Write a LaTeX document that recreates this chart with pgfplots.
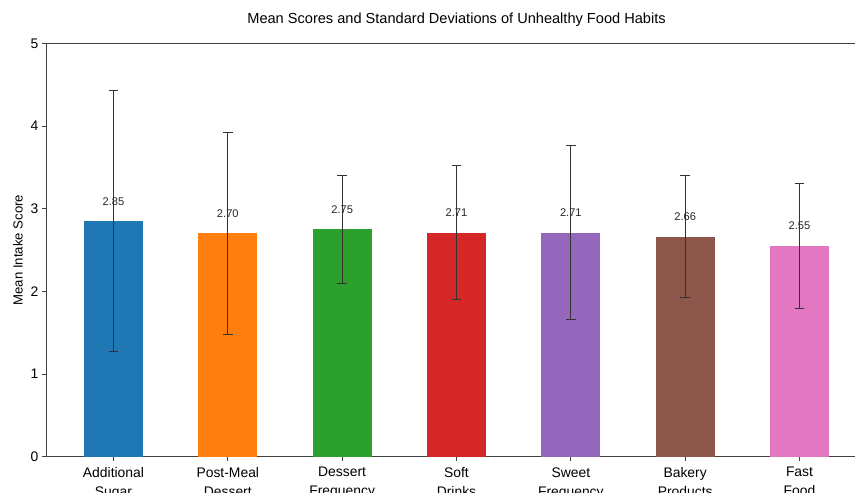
\documentclass[border=0pt]{standalone}
\usepackage{pgfplots}
\pgfplotsset{compat=1.18}
\usepackage{fontspec}
\setmainfont{Liberation Sans}

\definecolor{tabblue}{HTML}{1F77B4}
\definecolor{taborange}{HTML}{FF7F0E}
\definecolor{tabgreen}{HTML}{2CA02C}
\definecolor{tabred}{HTML}{D62728}
\definecolor{tabpurple}{HTML}{9467BD}
\definecolor{tabbrown}{HTML}{8C564B}
\definecolor{tabpink}{HTML}{E377C2}
\definecolor{errgray}{HTML}{333333}

\begin{document}
\begin{tikzpicture}
% canvas: 855 x 493 px at 0.72pt per px
\path[use as bounding box] (0pt,0pt) rectangle (615.6pt,354.96pt);
\clip (0pt,0pt) rectangle (615.6pt,354.96pt);
\node[font=\fontsize{10.5}{12}\selectfont] at (328.7pt,340.8pt) {Mean Scores and Standard Deviations of Unhealthy Food Habits};
\begin{axis}[
  at={(33.12pt,26.14pt)}, anchor=south west,
  scale only axis, width=591.1pt, height=297.6pt,
  xmin=-0.59, xmax=6.59, ymin=0, ymax=5,
  axis line style={black!75, line width=0.7pt},
  tick style={black!75, line width=0.6pt},
  major tick length=3pt,
  tick align=outside,
  xtick pos=bottom, ytick pos=left,
  ytick={0,1,2,3,4,5},
  xtick={0,1,2,3,4,5,6},
  xticklabels={{Additional\\Sugar},{Post-Meal\\Dessert},{Dessert\\Frequency},{Soft\\Drinks},{Sweet\\Frequency},{Bakery\\Products},{Fast\\Food}},
  xticklabel style={align=center, font=\fontsize{10}{13.6}\selectfont, yshift=-1.2pt},
  yticklabel style={font=\fontsize{10}{12}\selectfont, xshift=1pt},
  /pgf/number format/assume math mode=true,
  ylabel={Mean Intake Score},
  every axis y label/.style={at={(axis description cs:-0.0342,0.5)}, rotate=90, anchor=center, font=\fontsize{9.5}{11}\selectfont},
  ybar, bar width=0.515, bar shift=0pt,
  clip=false,
  nodes near coords={\pgfmathprintnumber[fixed,fixed zerofill,precision=2]{\pgfplotspointmeta}},
  every node near coord/.style={font=\fontsize{8}{9}\selectfont, anchor=center, yshift=14.3pt, text=black!85},
  error bars/y dir=both, error bars/y explicit,
  error bars/error bar style={errgray, line width=0.75pt},
  error bars/error mark options={rotate=90, mark size=3.4pt, errgray, line width=0.75pt},
]
\addplot[fill=tabblue, draw=none] coordinates {(0,2.85) +- (0,1.58)};
\addplot[fill=taborange, draw=none] coordinates {(1,2.70) +- (0,1.22)};
\addplot[fill=tabgreen, draw=none] coordinates {(2,2.75) +- (0,0.65)};
\addplot[fill=tabred, draw=none] coordinates {(3,2.71) +- (0,0.81)};
\addplot[fill=tabpurple, draw=none] coordinates {(4,2.71) +- (0,1.05)};
\addplot[fill=tabbrown, draw=none] coordinates {(5,2.66) +- (0,0.74)};
\addplot[fill=tabpink, draw=none] coordinates {(6,2.55) +- (0,0.76)};
\end{axis}
\end{tikzpicture}
\end{document}
